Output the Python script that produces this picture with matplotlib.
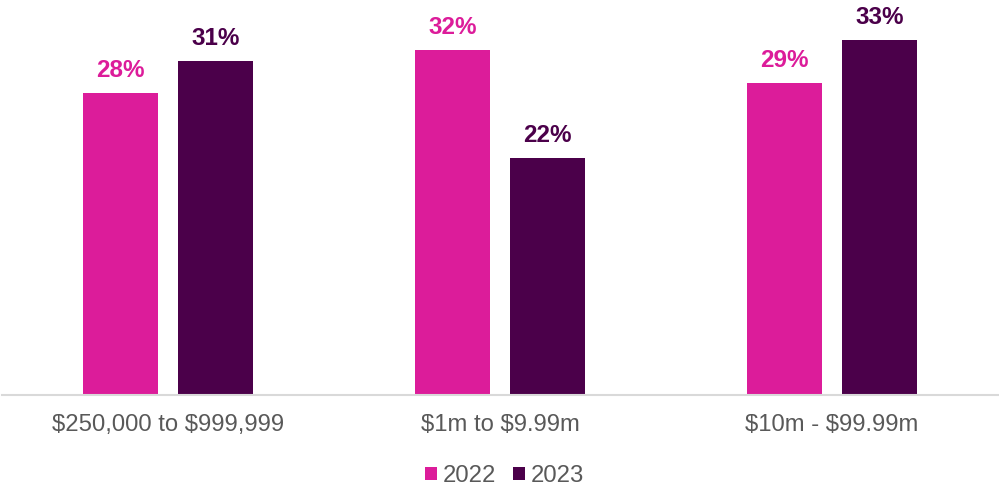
import matplotlib
matplotlib.use("Agg")
import matplotlib.pyplot as plt
from matplotlib.patches import Patch
import numpy as np

plt.rcParams['font.family'] = ['Liberation Sans', 'DejaVu Sans']

categories = ["$250,000 to $999,999", "$1m to $9.99m", "$10m - $99.99m"]
series_names = ["2022", "2023"]
values_2022 = [28, 32, 29]
values_2023 = [31, 22, 33]
colors = ["#DC1C9A", "#4B004A"]

W, H = 999, 486
fig = plt.figure(figsize=(W/100, H/100), dpi=100)
ax = fig.add_axes([2/W, (H-394.5)/H, 996/W, 394.5/H])

x = np.arange(len(categories))
bw = 75/332
off = 47.5/332
for vals, o, c in [(values_2022, -off, colors[0]), (values_2023, off, colors[1])]:
    bars = ax.bar(x + o, vals, width=bw, color=c, zorder=2)
    for b, v in zip(bars, vals):
        ax.annotate(f"{v}%", (b.get_x() + b.get_width()/2, v), xytext=(0, 8),
                    textcoords="offset points", ha="center", va="bottom",
                    fontsize=17.5, fontweight="bold", color=c)

ax.set_xlim(-0.5, 2.5)
ax.set_ylim(0, 394.5/10.75)
for s in ["top", "right", "left"]:
    ax.spines[s].set_visible(False)
ax.spines["bottom"].set_color("#d9d9d9")
ax.spines["bottom"].set_linewidth(1.5)
ax.set_yticks([])
ax.set_xticks(x)
ax.set_xticklabels([c.replace("$", r"\$") for c in categories], fontsize=17.2, color="#595959")
ax.tick_params(axis="x", length=0, pad=14)

handles = [Patch(facecolor=c, label=n) for c, n in zip(colors, series_names)]
fig.legend(handles=handles, loc="center", bbox_to_anchor=(0.5 + 5/W, 1 - 476/H), ncol=2,
           frameon=False, fontsize=17.2, labelcolor="#595959", handlelength=0.5,
           handleheight=0.5, handletextpad=0.25, columnspacing=0.7)

fig.savefig("out.png", dpi=100)
